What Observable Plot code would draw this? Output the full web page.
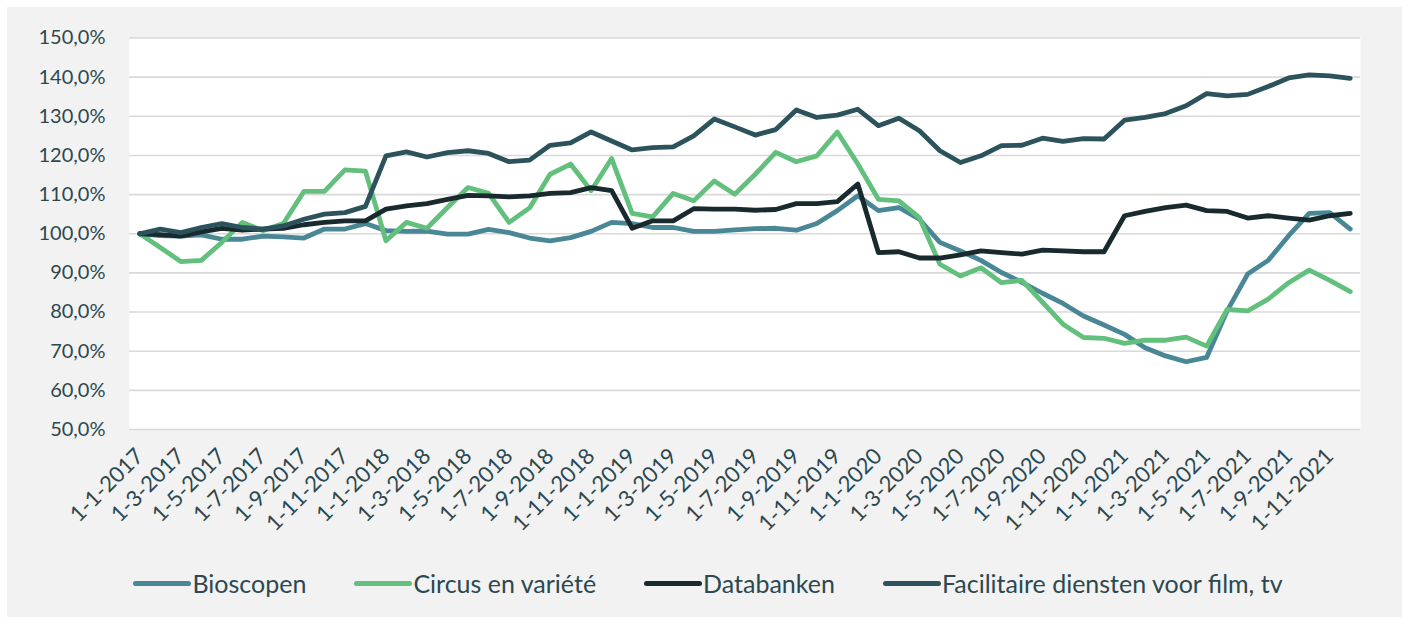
<!DOCTYPE html>
<html>
<head>
<meta charset="utf-8">
<script src="https://cdn.jsdelivr.net/npm/d3@7"></script>
<script src="https://cdn.jsdelivr.net/npm/@observablehq/plot@0.6"></script>
<style>
  html, body { margin: 0; padding: 0; background: #ffffff; }
  body { width: 1402px; height: 617px; position: relative; overflow: hidden; font-family: Lato, sans-serif; }
  #panel { position: absolute; left: 7px; top: 7px; right: 0; bottom: 0; background: #f2f2f2; }
  #chart { position: absolute; left: 0; top: 0; }
  #legend { position: absolute; left: 7px; width: 1402px; top: 568px; display: flex; justify-content: center; gap: 48px; color: #2c4850; font-size: 25px; line-height: 30px; font-family: Lato, sans-serif; }
  .item { display: flex; align-items: center; }
  .sw { width: 58px; height: 5px; border-radius: 3px; margin-right: 1px; }
</style>
</head>
<body>
<div id="panel"></div>
<div id="chart"></div>
<div id="legend"></div>
<script>
// Categories: monthly, 1-1-2017 .. 1-12-2021
const years = [2017, 2018, 2019, 2020, 2021];
const months = [1,2,3,4,5,6,7,8,9,10,11,12];
const categories = [];
for (const y of years) for (const m of months) categories.push(`1-${m}-${y}`);
const tickLabels = categories.filter((d, i) => i % 2 === 0);

const seriesNames = ["Bioscopen", "Circus en variété", "Databanken", "Facilitaire diensten voor film, tv"];
const seriesColors = ["#4a8796", "#62bf7c", "#182a2e", "#2c535b"];

const bioscopen = [
  100.0, 99.5, 99.4, 99.7, 98.6, 98.6, 99.4, 99.2, 98.9, 101.2, 101.2, 102.6,
  100.8, 100.6, 100.7, 99.9, 99.9, 101.1, 100.3, 98.9, 98.2, 99.0, 100.6, 102.9,
  102.6, 101.6, 101.6, 100.6, 100.6, 101.0, 101.3, 101.4, 100.9, 102.6, 105.9, 109.7,
  105.9, 106.7, 103.7, 97.8, 95.6, 93.2, 90.1, 87.6, 84.8, 82.2, 79.0, 76.7,
  74.3, 70.9, 68.8, 67.3, 68.4, 80.3, 89.7, 93.2, 99.5, 105.2, 105.4, 101.2
];
const circus = [
  100.0, 96.5, 92.9, 93.2, 97.8, 102.9, 100.8, 102.6, 110.8, 110.8, 116.3, 116.0,
  98.2, 102.9, 101.4, 106.7, 111.8, 110.3, 102.9, 106.6, 115.2, 117.8, 111.0, 119.2,
  105.2, 104.3, 110.3, 108.4, 113.5, 110.1, 115.2, 120.8, 118.4, 119.9, 126.0, 117.8,
  108.8, 108.4, 104.1, 92.2, 89.2, 91.3, 87.5, 88.1, 82.5, 76.9, 73.5, 73.3,
  72.0, 72.8, 72.8, 73.6, 71.3, 80.7, 80.3, 83.3, 87.5, 90.7, 88.1, 85.2
];
const databanken = [
  100.0, 99.8, 99.4, 100.5, 101.4, 100.9, 101.2, 101.4, 102.3, 102.9, 103.3, 103.3,
  106.3, 107.1, 107.7, 108.8, 109.8, 109.7, 109.4, 109.7, 110.3, 110.5, 111.8, 111.0,
  101.4, 103.3, 103.3, 106.4, 106.3, 106.3, 106.0, 106.2, 107.7, 107.7, 108.2, 112.7,
  95.2, 95.4, 93.8, 93.8, 94.6, 95.6, 95.2, 94.8, 95.8, 95.6, 95.4, 95.4,
  104.6, 105.7, 106.7, 107.3, 105.9, 105.7, 104.0, 104.6, 104.0, 103.5, 104.6, 105.2
];
const facilitaire = [
  100.0, 101.2, 100.3, 101.6, 102.6, 101.6, 101.2, 102.0, 103.7, 105.0, 105.4, 107.0,
  119.9, 120.9, 119.6, 120.7, 121.2, 120.5, 118.4, 118.8, 122.6, 123.2, 126.0, 123.7,
  121.4, 122.0, 122.2, 125.0, 129.3, 127.3, 125.2, 126.6, 131.6, 129.7, 130.3, 131.8,
  127.6, 129.5, 126.3, 121.2, 118.2, 119.9, 122.5, 122.6, 124.4, 123.6, 124.3, 124.2,
  129.0, 129.7, 130.7, 132.7, 135.8, 135.2, 135.6, 137.6, 139.8, 140.6, 140.3, 139.7
];
const yTicks = [50, 60, 70, 80, 90, 100, 110, 120, 130, 140, 150];

const allSeries = [bioscopen, circus, databanken, facilitaire];
const rows = [];
allSeries.forEach((vals, s) => vals.forEach((v, i) => rows.push({cat: categories[i], value: v, series: seriesNames[s]})));

const fmt = d => d.toFixed(1).replace(".", ",") + "%";

const chart = Plot.plot({
  width: 1402,
  height: 560,
  marginLeft: 129,
  marginRight: 42,
  marginTop: 37.5,
  marginBottom: 131,
  style: { fontFamily: "Lato, sans-serif", fontSize: "20px", color: "#2c4850", background: "transparent", overflow: "visible" },
  x: { type: "band", domain: categories, padding: 0, label: null },
  y: { domain: [50, 150], label: null },
  marks: [
    Plot.frame({ fill: "white", stroke: null }),
    Plot.gridY(yTicks, { stroke: "#d9d9d9", strokeOpacity: 1, strokeWidth: 1.6 }),
    Plot.axisY(yTicks, { tickFormat: fmt, tickSize: 0, tickPadding: 24, fontSize: 20, fill: "#2c4850", label: null }),
    Plot.axisX(tickLabels, { tickRotate: -45, tickSize: 0, tickPadding: 23, fontSize: 22, fill: "#2c4850", label: null }),
    ...seriesNames.map((name, s) => Plot.lineY(rows.filter(r => r.series === name), {
      x: "cat", y: "value", stroke: seriesColors[s], strokeWidth: 4.8, strokeLinejoin: "round", strokeLinecap: "round"
    }))
  ]
});
document.getElementById("chart").appendChild(chart);

const legend = document.getElementById("legend");
seriesNames.forEach((name, s) => {
  const item = document.createElement("div");
  item.className = "item";
  const sw = document.createElement("span");
  sw.className = "sw";
  sw.style.background = seriesColors[s];
  const t = document.createElement("span");
  t.textContent = name;
  item.appendChild(sw);
  item.appendChild(t);
  legend.appendChild(item);
});
</script>
</body>
</html>
